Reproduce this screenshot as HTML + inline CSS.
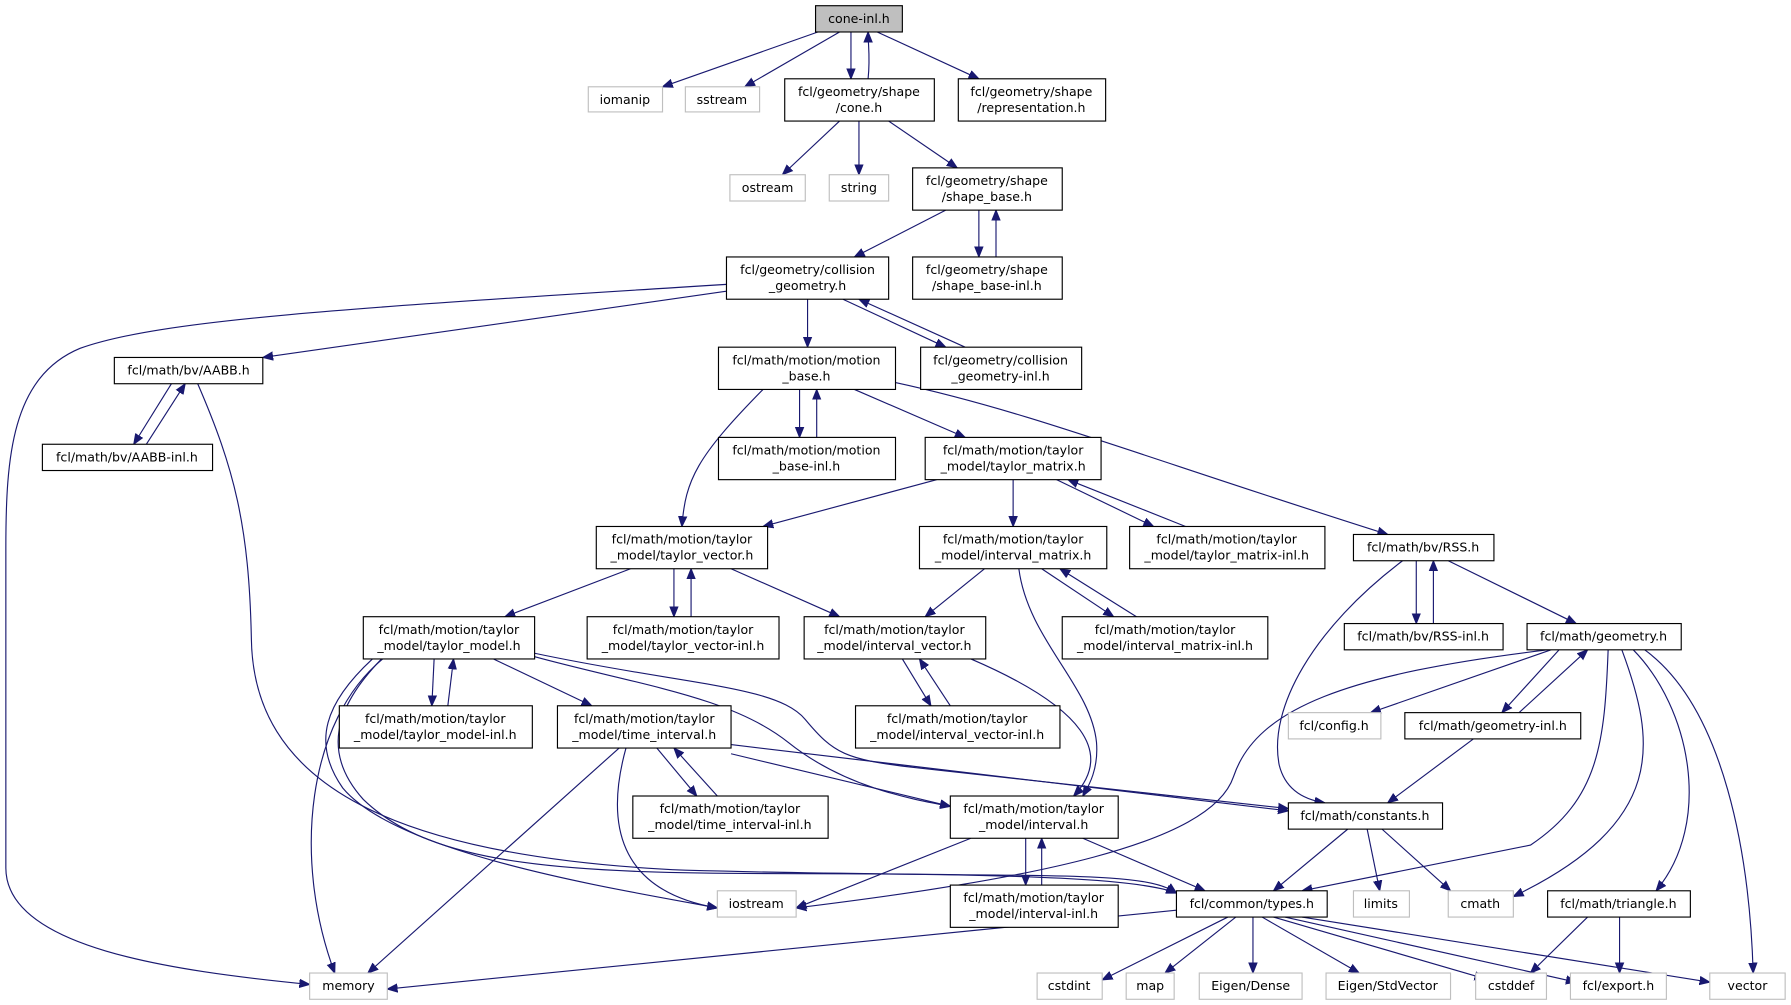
<!DOCTYPE html>
<html><head><meta charset="utf-8"><style>
html,body{margin:0;padding:0;background:#fff;}
svg{display:block;}
text{font-family:"DejaVu Sans","Liberation Sans",sans-serif;font-size:11px;fill:#000;text-anchor:middle;}
.n{fill:#fff;stroke:#000;stroke-width:1;}
.g{fill:#fff;stroke:#bfbfbf;stroke-width:1;}
.e{fill:none;stroke:#191970;stroke-width:1;marker-end:url(#a);}
</style></head><body>
<svg width="1791" height="1005" viewBox="0 0 1568 880" xmlns="http://www.w3.org/2000/svg">
<defs><marker id="a" viewBox="0 0 10 10" refX="10" refY="5" markerWidth="9" markerHeight="9" orient="auto" markerUnits="userSpaceOnUse"><path d="M0,1 L10,5 L0,9 z" fill="#191970" stroke="#191970"/></marker></defs>
<g>
<path class="e" d="M716,28 L580,76"/>
<path class="e" d="M735,28 L652,76"/>
<path class="e" d="M745,28 L745,69"/>
<path class="e" d="M760,69 C762,50 760,40 760,28"/>
<path class="e" d="M768,28 L857,69"/>
<path class="e" d="M735,106 L685,153"/>
<path class="e" d="M752,106 L752,153"/>
<path class="e" d="M778,106 L838,147"/>
<path class="e" d="M828,184 L748,225"/>
<path class="e" d="M857,184 L857,225"/>
<path class="e" d="M872,225 L872,184"/>
<path class="e" d="M636,249 C300,270 140,280 70,305 C10,330 5,400 5,480 L5,760 C5,830 150,850 271,862"/>
<path class="e" d="M636,255 L230,313"/>
<path class="e" d="M707,262 L707,304"/>
<path class="e" d="M738,262 L828,304"/>
<path class="e" d="M845,304 L752,262"/>
<path class="e" d="M150,336 L117,389"/>
<path class="e" d="M128,389 L162,336"/>
<path class="e" d="M173,336 C205,410 218,460 220,560 C222,680 330,750 600,762 C900,770 1000,760 1030,782"/>
<path class="e" d="M700,341 L700,383"/>
<path class="e" d="M715,383 L715,341"/>
<path class="e" d="M748,341 L845,383"/>
<path class="e" d="M784,335 C900,360 1000,400 1215,468"/>
<path class="e" d="M668,341 C610,400 600,420 597,461"/>
<path class="e" d="M820,420 L668,461"/>
<path class="e" d="M887,420 L887,461"/>
<path class="e" d="M925,420 L1010,461"/>
<path class="e" d="M1038,461 L935,420"/>
<path class="e" d="M552,498 L442,540"/>
<path class="e" d="M590,498 L590,540"/>
<path class="e" d="M605,540 L605,498"/>
<path class="e" d="M640,498 L735,540"/>
<path class="e" d="M862,498 L810,540"/>
<path class="e" d="M892,498 C900,560 955,600 960,650 C962,675 952,690 948,697"/>
<path class="e" d="M912,498 L975,540"/>
<path class="e" d="M995,540 L928,498"/>
<path class="e" d="M1228,491 C1150,550 1110,620 1120,670 C1125,690 1140,700 1160,703"/>
<path class="e" d="M1240,491 L1240,546"/>
<path class="e" d="M1255,546 L1255,491"/>
<path class="e" d="M1268,491 L1380,546"/>
<path class="e" d="M335,577 C270,630 255,750 293,852"/>
<path class="e" d="M380,577 L378,618"/>
<path class="e" d="M392,618 L397,577"/>
<path class="e" d="M432,577 L518,618"/>
<path class="e" d="M468,575 C560,600 640,610 690,650 C740,690 800,700 832,706"/>
<path class="e" d="M468,572 C600,600 680,600 705,630 C730,660 740,665 800,672 L1128,708"/>
<path class="e" d="M326,577 C285,615 272,650 300,690 C350,750 550,780 628,795"/>
<path class="e" d="M334,577 C292,620 282,660 318,700 C380,760 500,765 700,765 C900,765 1000,770 1030,782"/>
<path class="e" d="M790,577 L815,618"/>
<path class="e" d="M832,618 L805,577"/>
<path class="e" d="M850,577 C950,620 975,660 940,697"/>
<path class="e" d="M542,655 L322,852"/>
<path class="e" d="M548,655 C530,720 540,780 628,795"/>
<path class="e" d="M575,655 L610,697"/>
<path class="e" d="M628,697 L590,655"/>
<path class="e" d="M640,660 L832,706"/>
<path class="e" d="M640,652 L1128,710"/>
<path class="e" d="M1355,569 C1180,590 1100,620 1080,680 C1060,740 900,770 697,795"/>
<path class="e" d="M1358,569 L1200,624"/>
<path class="e" d="M1365,569 L1315,624"/>
<path class="e" d="M1330,624 L1390,569"/>
<path class="e" d="M1408,569 C1405,650 1400,700 1340,740 L1140,780"/>
<path class="e" d="M1420,569 C1450,650 1460,720 1325,785"/>
<path class="e" d="M1430,569 C1480,620 1500,720 1450,780"/>
<path class="e" d="M1440,569 C1510,620 1532,750 1535,852"/>
<path class="e" d="M1290,647 L1215,703"/>
<path class="e" d="M850,734 L697,795"/>
<path class="e" d="M898,734 L898,775"/>
<path class="e" d="M912,775 L912,734"/>
<path class="e" d="M948,734 L1055,780"/>
<path class="e" d="M1180,726 L1115,780"/>
<path class="e" d="M1197,726 L1208,780"/>
<path class="e" d="M1210,726 L1270,780"/>
<path class="e" d="M1030,797 L339,866"/>
<path class="e" d="M1075,803 L965,858"/>
<path class="e" d="M1082,803 L1020,852"/>
<path class="e" d="M1097,803 L1097,852"/>
<path class="e" d="M1105,803 L1190,852"/>
<path class="e" d="M1115,803 L1300,857"/>
<path class="e" d="M1125,803 L1380,860"/>
<path class="e" d="M1140,803 L1497,860"/>
<path class="e" d="M1390,803 L1340,852"/>
<path class="e" d="M1418,803 L1418,852"/>
</g>
<g>
<rect x="714" y="5" width="76" height="23" fill="#bfbfbf" stroke="#000"/><text x="752" y="20">cone-inl.h</text>
<rect class="g" x="515" y="76" width="65" height="22"/><text x="547" y="91">iomanip</text>
<rect class="g" x="600" y="76" width="65" height="22"/><text x="632" y="91">sstream</text>
<rect class="n" x="687" y="69" width="131" height="37"/><text x="752" y="84">fcl/geometry/shape</text><text x="752" y="98">/cone.h</text>
<rect class="n" x="839" y="69" width="129" height="37"/><text x="903" y="84">fcl/geometry/shape</text><text x="903" y="98">/representation.h</text>
<rect class="g" x="639" y="153" width="66" height="23"/><text x="672" y="168">ostream</text>
<rect class="g" x="726" y="153" width="52" height="23"/><text x="752" y="168">string</text>
<rect class="n" x="799" y="147" width="131" height="37"/><text x="864" y="162">fcl/geometry/shape</text><text x="864" y="176">/shape_base.h</text>
<rect class="n" x="636" y="225" width="142" height="37"/><text x="707" y="240">fcl/geometry/collision</text><text x="707" y="254">_geometry.h</text>
<rect class="n" x="799" y="225" width="131" height="37"/><text x="864" y="240">fcl/geometry/shape</text><text x="864" y="254">/shape_base-inl.h</text>
<rect class="n" x="100" y="313" width="130" height="23"/><text x="165" y="328">fcl/math/bv/AABB.h</text>
<rect class="n" x="629" y="304" width="155" height="37"/><text x="706" y="319">fcl/math/motion/motion</text><text x="706" y="333">_base.h</text>
<rect class="n" x="806" y="304" width="141" height="37"/><text x="876" y="319">fcl/geometry/collision</text><text x="876" y="333">_geometry-inl.h</text>
<rect class="n" x="37" y="389" width="149" height="23"/><text x="111" y="404">fcl/math/bv/AABB-inl.h</text>
<rect class="n" x="629" y="383" width="155" height="37"/><text x="706" y="398">fcl/math/motion/motion</text><text x="706" y="412">_base-inl.h</text>
<rect class="n" x="810" y="383" width="154" height="37"/><text x="887" y="398">fcl/math/motion/taylor</text><text x="887" y="412">_model/taylor_matrix.h</text>
<rect class="n" x="522" y="461" width="150" height="37"/><text x="597" y="476">fcl/math/motion/taylor</text><text x="597" y="490">_model/taylor_vector.h</text>
<rect class="n" x="805" y="461" width="164" height="37"/><text x="887" y="476">fcl/math/motion/taylor</text><text x="887" y="490">_model/interval_matrix.h</text>
<rect class="n" x="989" y="461" width="171" height="37"/><text x="1074" y="476">fcl/math/motion/taylor</text><text x="1074" y="490">_model/taylor_matrix-inl.h</text>
<rect class="n" x="1185" y="468" width="123" height="23"/><text x="1246" y="483">fcl/math/bv/RSS.h</text>
<rect class="n" x="318" y="540" width="150" height="37"/><text x="393" y="555">fcl/math/motion/taylor</text><text x="393" y="569">_model/taylor_model.h</text>
<rect class="n" x="514" y="540" width="168" height="37"/><text x="598" y="555">fcl/math/motion/taylor</text><text x="598" y="569">_model/taylor_vector-inl.h</text>
<rect class="n" x="704" y="540" width="159" height="37"/><text x="783" y="555">fcl/math/motion/taylor</text><text x="783" y="569">_model/interval_vector.h</text>
<rect class="n" x="930" y="540" width="180" height="37"/><text x="1020" y="555">fcl/math/motion/taylor</text><text x="1020" y="569">_model/interval_matrix-inl.h</text>
<rect class="n" x="1177" y="546" width="139" height="23"/><text x="1246" y="561">fcl/math/bv/RSS-inl.h</text>
<rect class="n" x="1337" y="546" width="135" height="23"/><text x="1404" y="561">fcl/math/geometry.h</text>
<rect class="n" x="297" y="618" width="169" height="37"/><text x="381" y="633">fcl/math/motion/taylor</text><text x="381" y="647">_model/taylor_model-inl.h</text>
<rect class="n" x="488" y="618" width="152" height="37"/><text x="564" y="633">fcl/math/motion/taylor</text><text x="564" y="647">_model/time_interval.h</text>
<rect class="n" x="749" y="618" width="179" height="37"/><text x="838" y="633">fcl/math/motion/taylor</text><text x="838" y="647">_model/interval_vector-inl.h</text>
<rect class="g" x="1128" y="624" width="81" height="23"/><text x="1168" y="639">fcl/config.h</text>
<rect class="n" x="1230" y="624" width="154" height="23"/><text x="1307" y="639">fcl/math/geometry-inl.h</text>
<rect class="n" x="554" y="697" width="171" height="37"/><text x="639" y="712">fcl/math/motion/taylor</text><text x="639" y="726">_model/time_interval-inl.h</text>
<rect class="n" x="832" y="697" width="147" height="37"/><text x="905" y="712">fcl/math/motion/taylor</text><text x="905" y="726">_model/interval.h</text>
<rect class="n" x="1128" y="703" width="135" height="23"/><text x="1195" y="718">fcl/math/constants.h</text>
<rect class="g" x="628" y="780" width="69" height="23"/><text x="662" y="795">iostream</text>
<rect class="n" x="832" y="775" width="147" height="37"/><text x="905" y="790">fcl/math/motion/taylor</text><text x="905" y="804">_model/interval-inl.h</text>
<rect class="n" x="1030" y="780" width="132" height="23"/><text x="1096" y="795">fcl/common/types.h</text>
<rect class="g" x="1185" y="780" width="49" height="23"/><text x="1209" y="795">limits</text>
<rect class="g" x="1268" y="780" width="57" height="23"/><text x="1296" y="795">cmath</text>
<rect class="n" x="1355" y="780" width="125" height="23"/><text x="1417" y="795">fcl/math/triangle.h</text>
<rect class="g" x="271" y="852" width="68" height="23"/><text x="305" y="867">memory</text>
<rect class="g" x="908" y="852" width="57" height="23"/><text x="936" y="867">cstdint</text>
<rect class="g" x="986" y="852" width="42" height="23"/><text x="1007" y="867">map</text>
<rect class="g" x="1050" y="852" width="90" height="23"/><text x="1095" y="867">Eigen/Dense</text>
<rect class="g" x="1161" y="852" width="109" height="23"/><text x="1215" y="867">Eigen/StdVector</text>
<rect class="g" x="1292" y="852" width="62" height="23"/><text x="1323" y="867">cstddef</text>
<rect class="g" x="1375" y="852" width="84" height="23"/><text x="1417" y="867">fcl/export.h</text>
<rect class="g" x="1497" y="852" width="66" height="23"/><text x="1530" y="867">vector</text>
</g>
</svg>
</body></html>
